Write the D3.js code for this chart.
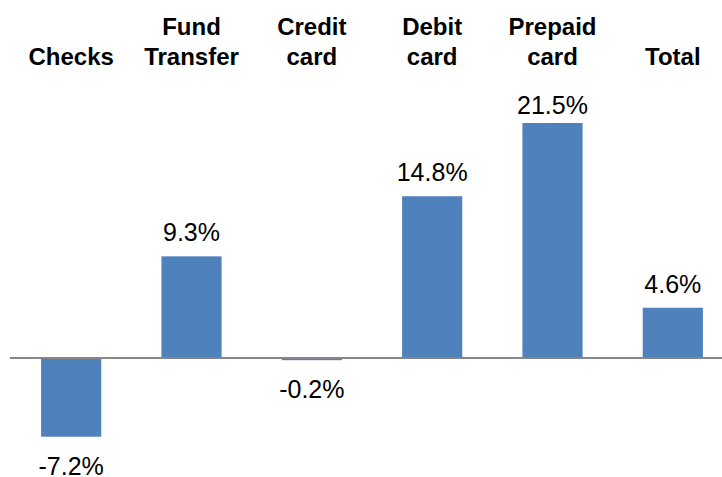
<!DOCTYPE html>
<html>
<head>
<meta charset="utf-8">
<script src="https://cdn.jsdelivr.net/npm/d3@7"></script>
<style>
  html, body { margin: 0; padding: 0; background: #fff; }
  svg { display: block; font-family: "Liberation Sans", Arial, sans-serif; }
</style>
</head>
<body>
<svg width="722" height="477"></svg>
<script>
// category labels (two lines each, empty first line when single)
var categories = ["Checks", "Fund Transfer", "Credit card", "Debit card", "Prepaid card", "Total"];
var labelLines = [["", "Checks"], ["Fund", "Transfer"], ["Credit", "card"], ["Debit", "card"], ["Prepaid", "card"], ["", "Total"]];
var growth = [-7.2, 9.3, -0.2, 14.8, 21.5, 4.6];

var svg = d3.select("svg");
var width = +svg.attr("width");
var height = +svg.attr("height");

var x = d3.scaleBand()
    .domain(categories)
    .range([11, 733])
    .paddingInner(0.5)
    .paddingOuter(0.25);

// zero at 358, 21.5 at 123
var y = d3.scaleLinear()
    .domain([-7.2, 21.5])
    .range([436.7, 123]);

var data = categories.map(function (c, i) {
    return { cat: c, value: growth[i], lines: labelLines[i] };
});

svg.append("g")
    .selectAll("rect")
    .data(data)
    .enter()
    .append("rect")
    .attr("x", function (d) { return x(d.cat); })
    .attr("width", x.bandwidth())
    .attr("y", function (d) { return Math.min(y(0), y(d.value)); })
    .attr("height", function (d) { return Math.abs(y(d.value) - y(0)); })
    .attr("fill", "#4f81bd");

// zero axis line
svg.append("line")
    .attr("x1", 10)
    .attr("x2", width)
    .attr("y1", y(0))
    .attr("y2", y(0))
    .attr("stroke", "#868686")
    .attr("stroke-width", 2);

// value labels
svg.append("g")
    .selectAll("text")
    .data(data)
    .enter()
    .append("text")
    .attr("x", function (d) { return x(d.cat) + x.bandwidth() / 2; })
    .attr("y", function (d) {
        if (d.value >= 0) return Math.max(y(d.value) - 15, 114);
        return y(d.value) + 38;
    })
    .attr("text-anchor", "middle")
    .attr("font-size", 25)
    .attr("fill", "#000")
    .text(function (d) { return d.value.toFixed(1) + "%"; });

// category headers at top
var heads = svg.append("g")
    .selectAll("text")
    .data(data)
    .enter()
    .append("text")
    .attr("text-anchor", "middle")
    .attr("font-size", 24)
    .attr("font-weight", "bold")
    .attr("fill", "#000");

heads.append("tspan")
    .attr("x", function (d) { return x(d.cat) + x.bandwidth() / 2; })
    .attr("y", 35)
    .text(function (d) { return d.lines[0]; });

heads.append("tspan")
    .attr("x", function (d) { return x(d.cat) + x.bandwidth() / 2; })
    .attr("y", 65)
    .text(function (d) { return d.lines[1]; });
</script>
</body>
</html>
